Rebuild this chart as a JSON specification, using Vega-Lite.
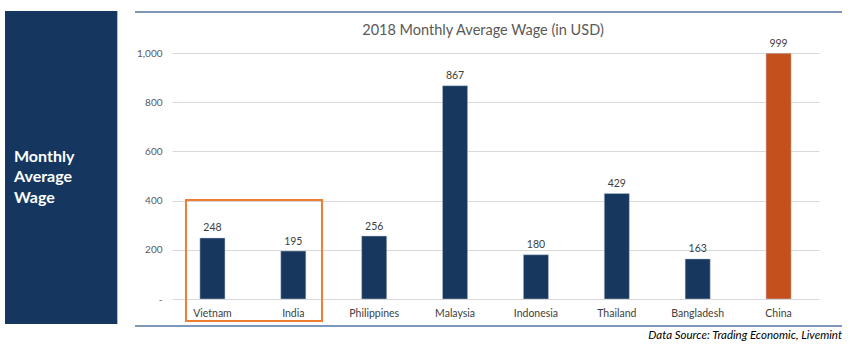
{
  "$schema": "https://vega.github.io/schema/vega-lite/v6.json",
  "autosize": "none",
  "width": 647,
  "height": 246,
  "padding": {"left": 172, "top": 53, "right": 31, "bottom": 59},
  "background": "white",
  "config": {"view": {"stroke": null}, "font": "Lato", "text": {"font": "Lato"}},
  "data": {
    "values": [
      {"country": "Vietnam", "wage": 248},
      {"country": "India", "wage": 195},
      {"country": "Philippines", "wage": 256},
      {"country": "Malaysia", "wage": 867},
      {"country": "Indonesia", "wage": 180},
      {"country": "Thailand", "wage": 429},
      {"country": "Bangladesh", "wage": 163},
      {"country": "China", "wage": 999}
    ]
  },
  "layer": [
    {
      "data": {"values": [{"part": "panel"}]},
      "mark": {"type": "rect", "color": "#14365F"},
      "encoding": {
        "x": {"datum": -0.2581, "type": "quantitative", "scale": {"domain": [0, 1], "range": [0, 647]}, "axis": null},
        "x2": {"datum": -0.0845},
        "y": {"datum": 1170.7, "type": "quantitative", "scale": {"domain": [0, 1000], "nice": false}},
        "y2": {"datum": -101.6}
      }
    },
    {
      "data": {"values": [{"label": "Monthly\nAverage\nWage"}]},
      "mark": {"type": "text", "align": "left", "baseline": "alphabetic", "lineBreak": "\n", "lineHeight": 20.7, "fontSize": 16, "fontWeight": "bold", "color": "white", "font": "Lato"},
      "encoding": {
        "x": {"datum": -0.2442, "type": "quantitative", "scale": {"domain": [0, 1], "range": [0, 647]}, "axis": null},
        "y": {"datum": 558.1, "type": "quantitative", "scale": {"domain": [0, 1000], "nice": false}},
        "text": {"field": "label"}
      }
    },
    {
      "data": {"values": [{"edge": 1166.7}, {"edge": -109.8}]},
      "mark": {"type": "rule", "color": "#5574A3", "strokeWidth": 1.5},
      "encoding": {
        "x": {"datum": -0.0572, "type": "quantitative", "scale": {"domain": [0, 1], "range": [0, 647]}, "axis": null},
        "x2": {"datum": 1.0355},
        "y": {"field": "edge", "type": "quantitative", "scale": {"domain": [0, 1000], "nice": false}}
      }
    },
    {
      "data": {"values": [{"label": "2018 Monthly Average Wage (in USD)"}]},
      "mark": {"type": "text", "align": "center", "baseline": "alphabetic", "fontSize": 14.5, "color": "#595959", "font": "Lato"},
      "encoding": {
        "x": {"datum": 0.4807, "type": "quantitative", "scale": {"domain": [0, 1], "range": [0, 647]}, "axis": null},
        "y": {"datum": 1073.2, "type": "quantitative", "scale": {"domain": [0, 1000], "nice": false}},
        "text": {"field": "label"}
      }
    },
    {
      "data": {"values": [{"label": "Data Source: Trading Economic, Livemint"}]},
      "mark": {"type": "text", "align": "right", "baseline": "alphabetic", "fontSize": 11.5, "fontStyle": "italic", "color": "#000000", "font": "Lato"},
      "encoding": {
        "x": {"datum": 1.0355, "type": "quantitative", "scale": {"domain": [0, 1], "range": [0, 647]}, "axis": null},
        "y": {"datum": -162.6, "type": "quantitative", "scale": {"domain": [0, 1000], "nice": false}},
        "text": {"field": "label"}
      }
    },
    {
      "mark": {"type": "bar", "stroke": "#BFCBDA", "strokeWidth": 0.5},
      "encoding": {
        "x": {
          "field": "country", "type": "nominal", "sort": null,
          "scale": {"paddingInner": 0.69, "paddingOuter": 0.345},
          "axis": {"title": null, "labelAngle": 0, "domain": false, "ticks": false, "tickSize": 0, "labelPadding": 9, "labelFontSize": 10.5, "labelColor": "#404040", "labelFont": "Lato"}
        },
        "y": {
          "field": "wage", "type": "quantitative",
          "scale": {"domain": [0, 1000], "nice": false},
          "axis": {"title": null, "values": [0, 200, 400, 600, 800, 1000], "grid": true, "gridColor": "#D9D9D9", "gridWidth": 1, "domain": false, "ticks": false, "tickSize": 0, "labelPadding": 10, "labelFontSize": 10, "labelColor": "#595959", "labelFont": "Lato", "labelExpr": "datum.value === 0 ? '-' : format(datum.value, ',')"}
        },
        "color": {"condition": {"test": "datum.country === 'China'", "value": "#C4501E"}, "value": "#17375E"}
      }
    },
    {
      "mark": {"type": "text", "baseline": "alphabetic", "dy": -6.5, "fontSize": 10.5, "color": "#404040", "font": "Lato"},
      "encoding": {
        "x": {"field": "country", "type": "nominal", "sort": null, "scale": {"paddingInner": 0.69, "paddingOuter": 0.345}, "axis": null},
        "y": {"field": "wage", "type": "quantitative", "scale": {"domain": [0, 1000], "nice": false}},
        "text": {"field": "wage", "type": "quantitative", "format": ","}
      }
    },
    {
      "data": {"values": [{"part": "highlight"}]},
      "mark": {"type": "rect", "filled": false, "stroke": "#ED7D31", "strokeWidth": 2},
      "encoding": {
        "x": {"datum": 0.0216, "type": "quantitative", "scale": {"domain": [0, 1], "range": [0, 647]}, "axis": null},
        "x2": {"datum": 0.2318},
        "y": {"datum": 402.4, "type": "quantitative", "scale": {"domain": [0, 1000], "nice": false}},
        "y2": {"datum": -89.4}
      }
    }
  ],
  "resolve": {"scale": {"x": "independent"}, "axis": {"x": "independent"}}
}
